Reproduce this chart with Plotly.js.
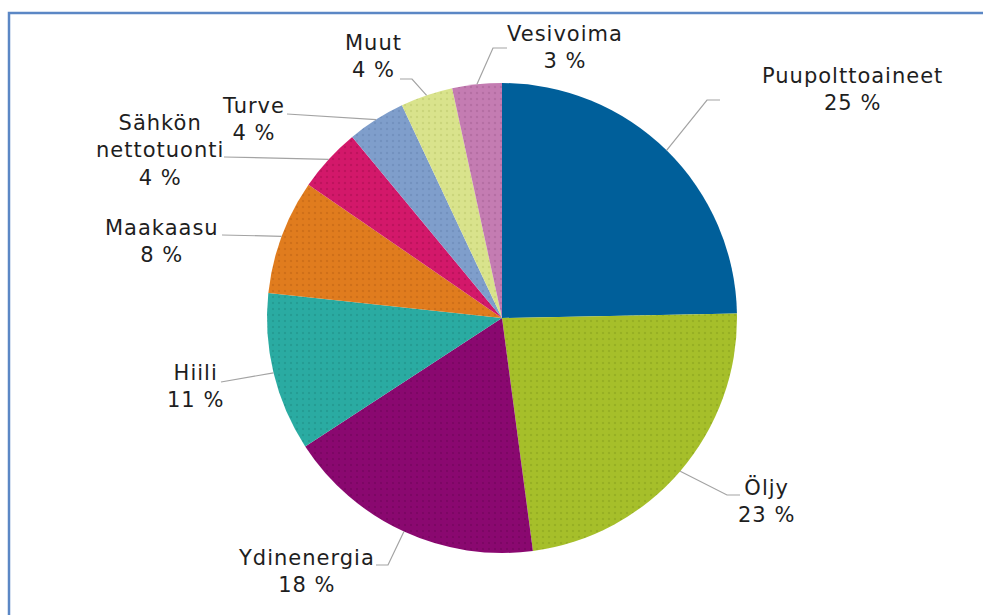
<!DOCTYPE html>
<html><head><meta charset="utf-8">
<script src="https://cdn.plot.ly/plotly-3.0.1.min.js"></script>
<style>
html,body{margin:0;padding:0;background:#fff}
#chart{width:983px;height:615px}
.annotation-text{letter-spacing:1px}
</style>
</head><body><div id="chart"></div>
<script>
// Data
const categories = ['Puupolttoaineet','Öljy','Ydinenergia','Hiili','Maakaasu','Sähkön nettotuonti','Turve','Muut','Vesivoima'];
const shares = [24.7, 23.2, 17.9, 10.9, 7.9, 4.4, 4.0, 3.6, 3.4];
const labelTexts = ['Puupolttoaineet','Öljy','Ydinenergia','Hiili','Maakaasu','Sähkön<br>nettotuonti','Turve','Muut','Vesivoima'];

// Styles
const colors = ['#005f9a','#a6bf2a','#8a0870','#2aaba2','#e07c1e','#d3186a','#7f9ecb','#d9e38c','#c47cb2'];
const dotColors = ['#005f9a','#86a01c','#6e0358','#1d8c84','#bb6114','#a80e50','#6683b2','#b9c56a','#a35f93'];
const patternShapes = ['', '.', '.', '.', '.', '.', '.', '.', '.'];

// Layout (pixels) for labels and leader lines
const W = 983, H = 615;
const cx = 502, cy = 318, R = 235;
const labelPos = [[852,89],[766,501],[306,571],[195,386],[162,241],[160,150],[253,120],[373,56],[565,48]];
const leaderEnd = [[707,100,720,100],[727,495,740,495],[388,565,376,565],[null,null,221,382],[null,null,222,235],[null,null,224,157],[null,null,287,114],[412,79,400,79],[493,48,507,48]];

const px = x => x / W;
const py = y => 1 - y / H;

const total = shares.reduce((a,b)=>a+b,0);
const shapes = [];
const annotations = [];
let cum = 0;
shares.forEach((v,i)=>{
  const mid = (cum + v/2) / total * 2 * Math.PI;
  cum += v;
  const ex = cx + R * Math.sin(mid);
  const ey = cy - R * Math.cos(mid);
  const le = leaderEnd[i];
  let path = `M ${px(ex)} ${py(ey)}`;
  if (le[0] !== null) path += ` L ${px(le[0])} ${py(le[1])}`;
  path += ` L ${px(le[2])} ${py(le[3])}`;
  shapes.push({type:'path', xref:'paper', yref:'paper', path, line:{color:'#a3a3a3', width:1.2}});
  annotations.push({
    xref:'paper', yref:'paper', x:px(labelPos[i][0]), y:py(labelPos[i][1]),
    xanchor:'center', yanchor:'middle', showarrow:false, align:'center',
    text: labelTexts[i] + '<br>' + Math.round(v / total * 100) + ' %',
    font:{family:'DejaVu Sans, Verdana, sans-serif', size:21, color:'#1e1e1e'}
  });
});

// frame
shapes.push({type:'path', xref:'paper', yref:'paper',
  path:`M ${px(9)} 0 L ${px(9)} ${py(13)} L 1 ${py(13)}`,
  line:{color:'#5b87c5', width:2.5}});

const trace = {
  type:'pie', labels:categories, values:shares, sort:false, direction:'clockwise', rotation:0,
  textinfo:'none', hoverinfo:'none', showlegend:false,
  domain:{x:[px(cx-R), px(cx+R)], y:[py(cy+R), py(cy-R)]},
  marker:{colors:colors, line:{width:0},
    pattern:{shape:patternShapes, fgcolor:dotColors, fillmode:'overlay', size:6, solidity:0.12}}
};

Plotly.newPlot('chart', [trace], {
  width:W, height:H, margin:{l:0,r:0,t:0,b:0},
  paper_bgcolor:'#ffffff', plot_bgcolor:'#ffffff',
  shapes, annotations
}, {displayModeBar:false, staticPlot:true});
</script>
</body></html>
